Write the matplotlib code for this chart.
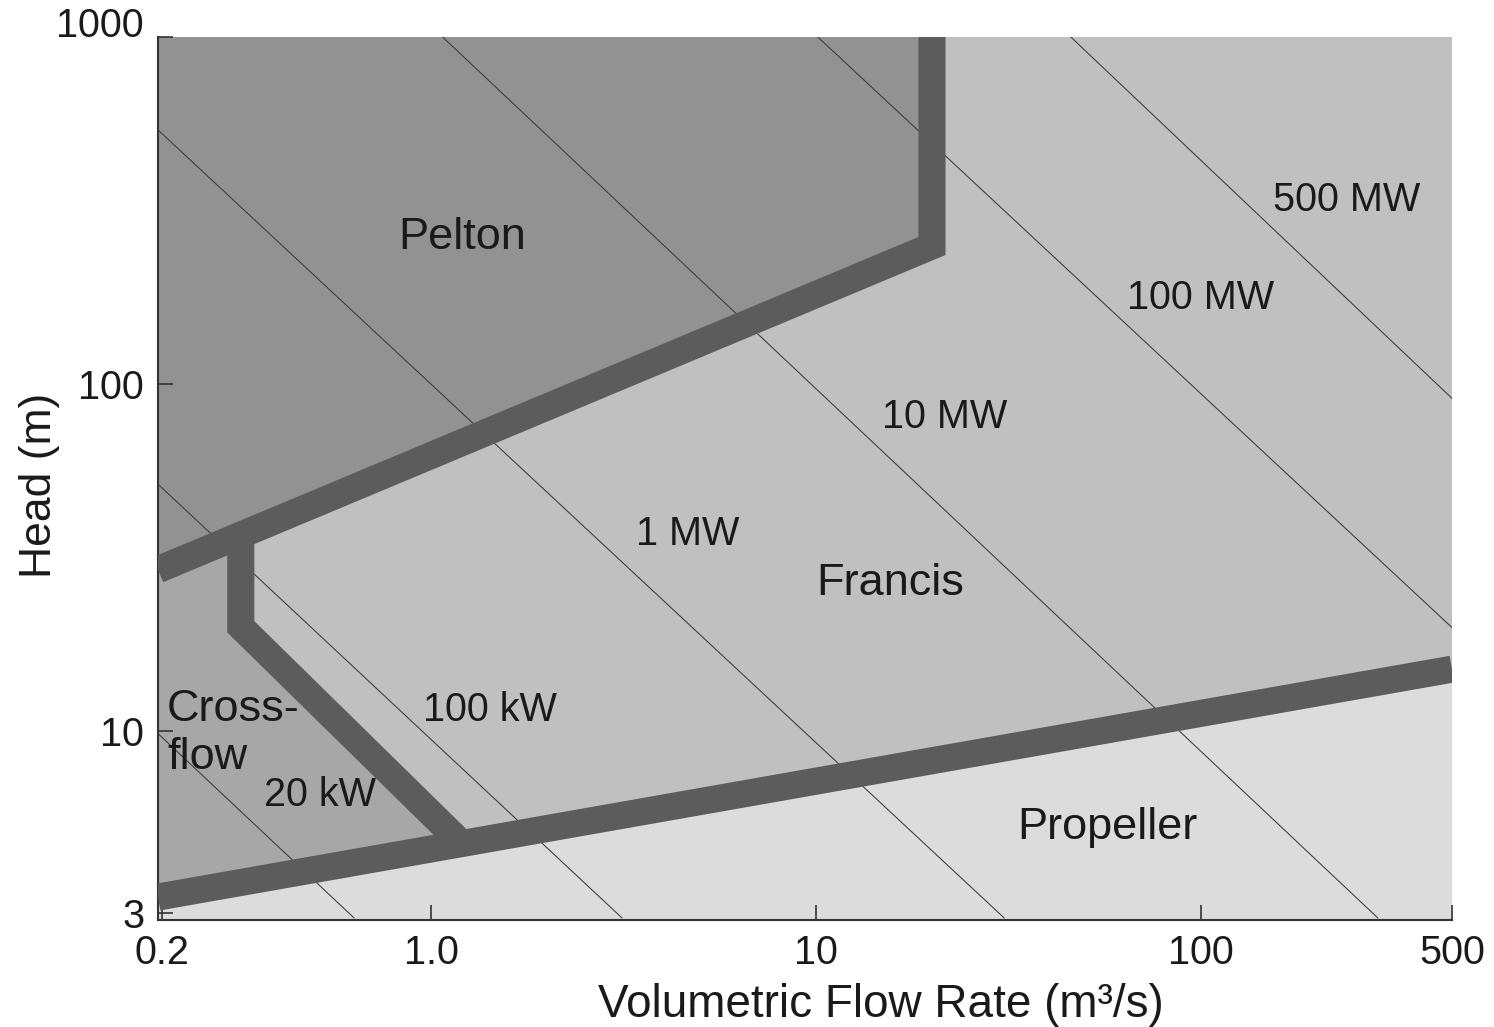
import numpy as np
import matplotlib
matplotlib.use("Agg")
import matplotlib.pyplot as plt

plt.rcParams['font.family'] = ['Liberation Sans', 'DejaVu Sans']

# turbine selection chart: flow rate (m3/s) vs head (m)
x_min, x_max = 0.195, 449
y_min, y_max = 2.86, 1000

# boundary lines (Q, H)
pelton_q = [0.195, 20, 20]
pelton_h = [29.2, 250, 1000]
cross_q = [0.32, 0.32, 1.2]
cross_h = [36, 20, 4.75]
prop_q = [0.195, 449]
prop_h = [3.33, 15.1]

# constant power lines, two end points each
power_names = ["20 kW", "100 kW", "1 MW", "10 MW", "100 MW", "500 MW"]
power_q = [[0.195, 0.63], [0.195, 3.13], [0.195, 30.8], [1.07, 288], [10.1, 449], [45.9, 449]]
power_h = [[9.85, 2.9], [51.5, 2.9], [540, 2.9], [1000, 2.9], [1000, 19.9], [1000, 91]]
power_label_q = [0.515, 1.42, 4.65, 21.6, 100, 239]
power_label_h = [6.54, 11.55, 37.0, 80.2, 177.5, 339]

region_names = ["Pelton", "Francis", "Propeller"]
region_q = [1.204, 15.6, 57.3]
region_h = [264, 26.7, 5.29]

c_pelton = '#929292'
c_cross = '#a7a7a7'
c_francis = '#c0c0c0'
c_prop = '#dcdcdc'
c_band = '#5c5c5c'

fig = plt.figure(figsize=(14.94, 10.27), dpi=100)
ax = fig.add_axes([158/1494, 1-920/1027, 1294/1494, 883/1027])
ax.set_xscale('log')
ax.set_yscale('log')
ax.set_facecolor(c_francis)

# region fills
ax.fill([x_min] + pelton_q + [x_min], [pelton_h[0]] + pelton_h + [y_max],
        color=c_pelton, lw=0, zorder=1)
ax.fill([x_min, cross_q[0]] + cross_q + [prop_q[0]],
        [pelton_h[0], cross_h[0]] + cross_h + [prop_h[0]],
        color=c_cross, lw=0, zorder=1)
ax.fill(prop_q + [prop_q[1], prop_q[0]], prop_h + [y_min, y_min],
        color=c_prop, lw=0, zorder=1)

# power lines
for q, h in zip(power_q, power_h):
    ax.plot(q, h, color='#3a3a3a', lw=0.75, zorder=2)

# thick boundaries
for q, h in [(pelton_q, pelton_h), (cross_q, cross_h), (prop_q, prop_h)]:
    ax.plot(q, h, color=c_band, lw=19.5, solid_joinstyle='miter',
            solid_capstyle='butt', zorder=3)

for name, q, h in zip(power_names, power_label_q, power_label_h):
    ax.text(q, h, name, fontsize=28.5, ha='center', va='center', color='#1a1a1a', zorder=4)
for name, q, h in zip(region_names, region_q, region_h):
    ax.text(q, h, name, fontsize=32.5, ha='center', va='center', color='#1a1a1a', zorder=4)
ax.text(0.206, 9.85, "Cross-\nflow", fontsize=32.5, ha='left', va='center',
        color='#1a1a1a', linespacing=1.2, zorder=4)

ax.set_xlim(x_min, x_max)
ax.set_ylim(y_min, y_max)

x_ticks = [0.2, 1, 10, 100, 449]
x_ticklabels = ["0.2", "1.0", "10", "100", "500"]
y_ticks = [3, 10, 100, 1000]
y_ticklabels = ["3", "10", "100", "1000"]
ax.set_xticks(x_ticks)
ax.set_xticklabels(x_ticklabels)
ax.set_yticks(y_ticks)
ax.set_yticklabels(y_ticklabels)
ax.minorticks_off()
ax.tick_params(direction='in', length=11, width=1.2, labelsize=28.5,
               colors='#333333', labelcolor='#1a1a1a')
ax.tick_params(axis='x', pad=10)
ax.tick_params(axis='y', pad=10)
ax.get_yticklabels()[-1].set_verticalalignment('baseline')

for s in ['top', 'right']:
    ax.spines[s].set_visible(False)
for s in ['left', 'bottom']:
    ax.spines[s].set_linewidth(1.5)
    ax.spines[s].set_color('#333333')

ax.set_xlabel("Volumetric Flow Rate (m³/s)", fontsize=33, color='#1a1a1a')
ax.set_ylabel("Head (m)", fontsize=32, color='#1a1a1a')
ax.xaxis.set_label_coords(0.559, -0.071)
ax.yaxis.set_label_coords(-0.076, 0.4926)

fig.savefig("out.png", dpi=100)
